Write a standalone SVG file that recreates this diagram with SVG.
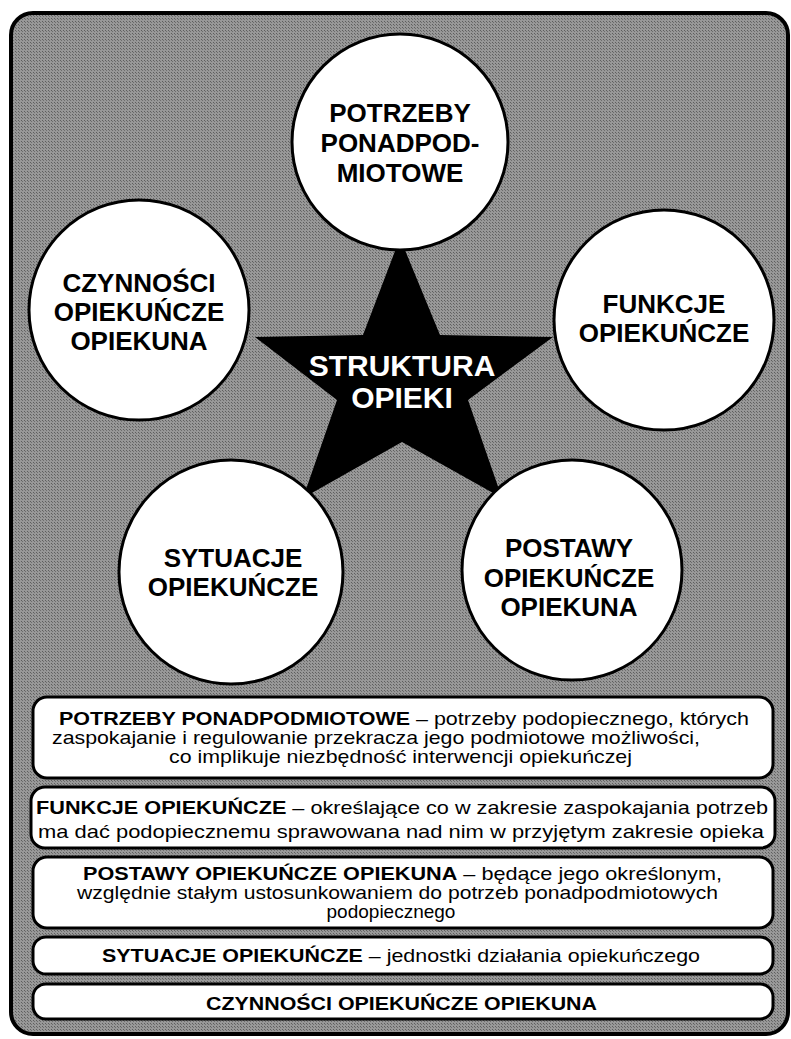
<svg xmlns="http://www.w3.org/2000/svg" width="791" height="1039" viewBox="0 0 791 1039">
<style>
.circ{fill:#fff;stroke:#000;stroke-width:3}
.box{fill:#fff;stroke:#000;stroke-width:3}
.ct{font-family:"Liberation Sans",Arial,sans-serif;font-weight:bold;font-size:26px;fill:#000;text-anchor:middle}
.st{font-family:"Liberation Sans",Arial,sans-serif;font-weight:bold;font-size:30px;fill:#fff;text-anchor:middle}
.bt{font-family:"Liberation Sans",Arial,sans-serif;font-size:19px;fill:#000}
.b{font-weight:bold}
</style>
<defs>
<pattern id="hatch" width="3" height="3" patternUnits="userSpaceOnUse">
<rect width="3" height="3" fill="#989898"/>
<rect x="0" y="0" width="1" height="1" fill="#5e5e5e"/>
<rect x="1" y="1" width="1" height="1" fill="#6e6e6e"/>
</pattern>
</defs>
<rect width="791" height="1039" fill="#fff"/>
<g id="frame">
<rect x="11" y="13" width="777" height="1021" rx="22" fill="url(#hatch)" stroke="#000" stroke-width="4"/>
</g>
<g id="star">
<polygon points="400,238 440,335 553,337 468,400 502,498 402,442 303,498 337,400 255,337 363,335" fill="#000"/>
<text class="st" x="402" y="376">STRUKTURA</text>
<text class="st" x="402" y="408">OPIEKI</text>
</g>
<g id="node-potrzeby">
<circle class="circ" cx="400" cy="142" r="108"/>
<text class="ct" x="400" y="122">POTRZEBY</text>
<text class="ct" x="400" y="152">PONADPOD-</text>
<text class="ct" x="400" y="182">MIOTOWE</text>
</g>
<g id="node-czynnosci">
<circle class="circ" cx="139" cy="310" r="110"/>
<text class="ct" x="139" y="292">CZYNNOŚCI</text>
<text class="ct" x="139" y="321">OPIEKUŃCZE</text>
<text class="ct" x="139" y="350">OPIEKUNA</text>
</g>
<g id="node-funkcje">
<circle class="circ" cx="664" cy="320" r="110"/>
<text class="ct" x="664" y="313">FUNKCJE</text>
<text class="ct" x="664" y="342">OPIEKUŃCZE</text>
</g>
<g id="node-sytuacje">
<circle class="circ" cx="231" cy="572" r="112"/>
<text class="ct" x="233" y="567">SYTUACJE</text>
<text class="ct" x="233" y="596">OPIEKUŃCZE</text>
</g>
<g id="node-postawy">
<circle class="circ" cx="572" cy="570" r="110"/>
<text class="ct" x="569" y="557">POSTAWY</text>
<text class="ct" x="569" y="587">OPIEKUŃCZE</text>
<text class="ct" x="569" y="616">OPIEKUNA</text>
</g>
<g id="box-potrzeby">
<rect class="box" x="33" y="697" width="740" height="81" rx="14"/>
<text class="bt" x="59" y="725" textLength="690" lengthAdjust="spacingAndGlyphs"><tspan class="b">POTRZEBY PONADPODMIOTOWE</tspan> – potrzeby podopiecznego, których</text>
<text class="bt" x="52" y="744" textLength="648" lengthAdjust="spacingAndGlyphs">zaspokajanie i regulowanie przekracza jego podmiotowe możliwości,</text>
<text class="bt" x="169" y="763" textLength="463" lengthAdjust="spacingAndGlyphs">co implikuje niezbędność interwencji opiekuńczej</text>
</g>
<g id="box-funkcje">
<rect class="box" x="31" y="787" width="744" height="61" rx="14"/>
<text class="bt" x="36" y="814" font-size="21" textLength="732" lengthAdjust="spacingAndGlyphs"><tspan class="b">FUNKCJE OPIEKUŃCZE</tspan> – określające co w zakresie zaspokajania potrzeb</text>
<text class="bt" x="38" y="838" font-size="21" textLength="726" lengthAdjust="spacingAndGlyphs">ma dać podopiecznemu sprawowana nad nim w przyjętym zakresie opieka</text>
</g>
<g id="box-postawy">
<rect class="box" x="33" y="857" width="740" height="71" rx="14"/>
<text class="bt" x="83" y="880" textLength="639" lengthAdjust="spacingAndGlyphs"><tspan class="b">POSTAWY OPIEKUŃCZE OPIEKUNA</tspan> – będące jego określonym,</text>
<text class="bt" x="77" y="899" textLength="641" lengthAdjust="spacingAndGlyphs">względnie stałym ustosunkowaniem do potrzeb ponadpodmiotowych</text>
<text class="bt" x="391" y="918" text-anchor="middle">podopiecznego</text>
</g>
<g id="box-sytuacje">
<rect class="box" x="33" y="937" width="740" height="37" rx="13"/>
<text class="bt" x="102" y="962" font-size="20" textLength="598" lengthAdjust="spacingAndGlyphs"><tspan class="b">SYTUACJE OPIEKUŃCZE</tspan> – jednostki działania opiekuńczego</text>
</g>
<g id="box-czynnosci">
<rect class="box" x="33" y="984" width="740" height="35" rx="13"/>
<text class="bt b" x="206" y="1010" textLength="391" lengthAdjust="spacingAndGlyphs">CZYNNOŚCI OPIEKUŃCZE OPIEKUNA</text>
</g>
<g id="connectors"></g>
</svg>
